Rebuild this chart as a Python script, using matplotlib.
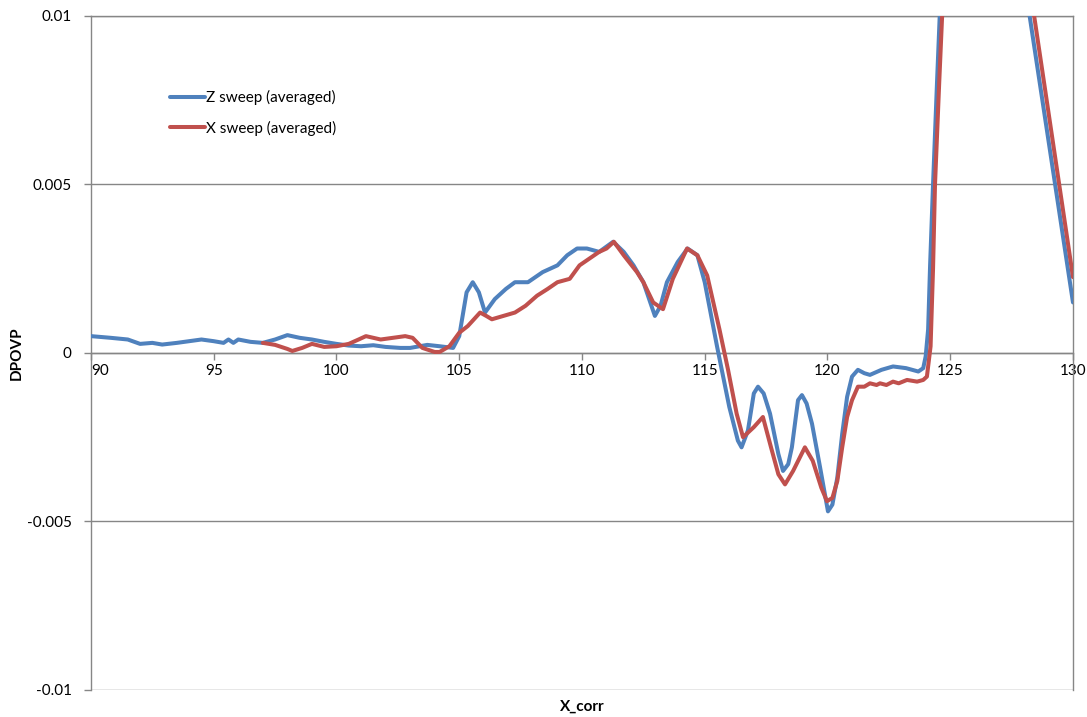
import matplotlib
matplotlib.use('Agg')
import matplotlib.pyplot as plt

plt.rcParams['font.family'] = ['Lato', 'DejaVu Sans']

# Z sweep (averaged)
z_x = [90.0, 90.8, 91.5, 92.0, 92.5, 92.9, 93.5, 94.0, 94.5, 95.0, 95.4, 95.6,
       95.8, 96.0, 96.5, 97.0, 97.5, 98.0, 98.5, 99.0, 99.5, 100.0, 100.5,
       101.0, 101.5, 102.0, 102.6, 103.0, 103.7, 104.2, 104.75, 105.0, 105.3,
       105.55, 105.8, 106.05, 106.45, 106.9, 107.27, 107.8, 108.4, 109.0,
       109.4, 109.8, 110.2, 110.7, 111.27, 111.7, 112.1, 112.5, 112.97, 113.2,
       113.46, 113.9, 114.3, 114.7, 115.0, 115.5, 116.0, 116.35, 116.5, 116.76,
       117.0, 117.17, 117.4, 117.66, 118.0, 118.19, 118.4, 118.55, 118.8,
       118.96, 119.15, 119.37, 119.7, 120.02, 120.2, 120.4, 120.6, 120.8,
       121.0, 121.24, 121.5, 121.73, 122.2, 122.67, 123.2, 123.7, 123.9, 124.0,
       124.1, 124.18, 124.3, 124.46, 124.6, 125.5, 126.5, 127.3, 130.0]
z_y = [0.0005, 0.00045, 0.0004, 0.00027, 0.0003, 0.00025, 0.0003, 0.00035,
       0.0004, 0.00035, 0.0003, 0.0004, 0.0003, 0.0004, 0.00033, 0.0003,
       0.0004, 0.00053, 0.00045, 0.0004, 0.00033, 0.00027, 0.00022, 0.0002,
       0.00023, 0.00018, 0.00015, 0.00015, 0.00024, 0.0002, 0.00015, 0.0005,
       0.0018, 0.0021, 0.0018, 0.0012, 0.0016, 0.0019, 0.0021, 0.0021, 0.0024,
       0.0026, 0.0029, 0.0031, 0.0031, 0.0030, 0.0033, 0.003, 0.0026, 0.0021,
       0.0011, 0.0014, 0.0021, 0.0027, 0.0031, 0.0029, 0.0021, 0.0002,
       -0.0016, -0.0026, -0.0028, -0.0023, -0.0012, -0.001, -0.0012, -0.0018,
       -0.003, -0.0035, -0.0033, -0.0028, -0.0014, -0.00125, -0.0015, -0.0021,
       -0.0034, -0.0047, -0.0045, -0.0037, -0.0024, -0.0013, -0.0007, -0.0005,
       -0.0006, -0.00065, -0.0005, -0.0004, -0.00045, -0.00055, -0.00045,
       -0.0001, 0.0007, 0.0026, 0.005, 0.008, 0.0105, 0.016, 0.0165, 0.0145,
       0.0015]

# X sweep (averaged)
x_x = [97.0, 97.5, 98.0, 98.2, 98.6, 99.0, 99.5, 100.0, 100.5, 100.9, 101.2,
       101.5, 101.8, 102.3, 102.8, 103.1, 103.5, 104.0, 104.2, 104.6, 105.0,
       105.35, 105.6, 105.85, 106.1, 106.33, 106.8, 107.27, 107.7, 108.17,
       108.6, 109.0, 109.5, 109.9, 110.3, 110.7, 111.0, 111.3, 111.7, 112.24,
       112.5, 112.9, 113.3, 113.7, 114.28, 114.7, 115.1, 115.6, 115.95, 116.3,
       116.56, 117.0, 117.37, 117.7, 118.0, 118.27, 118.6, 119.08, 119.4,
       119.75, 119.98, 120.2, 120.4, 120.6, 120.8, 121.0, 121.24, 121.5,
       121.73, 122.0, 122.14, 122.4, 122.67, 122.9, 123.24, 123.65, 123.9,
       124.05, 124.2, 124.3, 124.38, 124.55, 124.7, 125.6, 126.6, 127.5, 130.0]
x_y = [0.0003, 0.00024, 0.00012, 0.00006, 0.00015, 0.00027, 0.00018, 0.0002,
       0.00027, 0.0004, 0.0005, 0.00045, 0.0004, 0.00045, 0.0005, 0.00045,
       0.00015, 0.00003, 0.00003, 0.0002, 0.0006, 0.0008, 0.001, 0.0012,
       0.0011, 0.001, 0.0011, 0.0012, 0.0014, 0.0017, 0.0019, 0.0021, 0.0022,
       0.0026, 0.0028, 0.0030, 0.0031, 0.0033, 0.0029, 0.0024, 0.0021, 0.0015,
       0.0013, 0.0022, 0.0031, 0.0029, 0.0023, 0.0007, -0.0005, -0.0018,
       -0.0025, -0.0022, -0.0019, -0.0028, -0.0036, -0.0039, -0.0035, -0.0028,
       -0.0032, -0.0040, -0.0044, -0.0043, -0.0038, -0.0028, -0.0019, -0.0014,
       -0.001, -0.001, -0.0009, -0.00095, -0.0009, -0.00095, -0.00085, -0.0009,
       -0.0008, -0.00085, -0.0008, -0.0007, 0.0002, 0.0025, 0.005, 0.008,
       0.0105, 0.016, 0.0165, 0.0145, 0.00225]

x_ticks = [90, 95, 100, 105, 110, 115, 120, 125, 130]
y_ticks = [-0.01, -0.005, 0, 0.005, 0.01]
y_labels = ['-0.01', '-0.005', '0', '0.005', '0.01']

fig = plt.figure(figsize=(10.87, 7.17), dpi=100)
ax = fig.add_axes([0.0837, 0.0377, 0.9034, 0.94])

grid_c = '#868686'
ax.plot(z_x, z_y, color='#4F81BD', lw=2.9, solid_joinstyle='round',
        solid_capstyle='round', label='Z sweep (averaged)', zorder=3)
ax.plot(x_x, x_y, color='#C0504D', lw=2.9, solid_joinstyle='round',
        solid_capstyle='round', label='X sweep (averaged)', zorder=4)

ax.set_xlim(90, 130)
ax.set_ylim(-0.01, 0.01)
ax.set_xticks(x_ticks)
ax.set_yticks(y_ticks)
ax.set_yticklabels(y_labels)
ax.grid(axis='y', color=grid_c, lw=1)
ax.set_axisbelow(True)

ax.spines['bottom'].set_position(('data', 0))
for s in ax.spines.values():
    s.set_color(grid_c)
    s.set_linewidth(1)
ax.tick_params(axis='both', colors=grid_c, labelcolor='black', labelsize=11,
               length=5, width=1, direction='out')
ax.tick_params(axis='y', pad=9)
ax.tick_params(axis='x', pad=3)
ax.get_xticklabels()[0].set_horizontalalignment('left')

ax.set_xlabel('X_corr', fontsize=11, fontweight='bold')
ax.xaxis.set_label_coords(0.5, -0.014)
ax.set_ylabel('DPOVP', fontsize=11, fontweight='bold')
ax.yaxis.set_label_coords(-0.068, 0.5)

ax.legend(loc='upper left', bbox_to_anchor=(0.066, 0.91), frameon=False,
          fontsize=11, handlelength=2.3, handletextpad=0.1, labelspacing=1.0)

fig.savefig('out.png', dpi=100)
